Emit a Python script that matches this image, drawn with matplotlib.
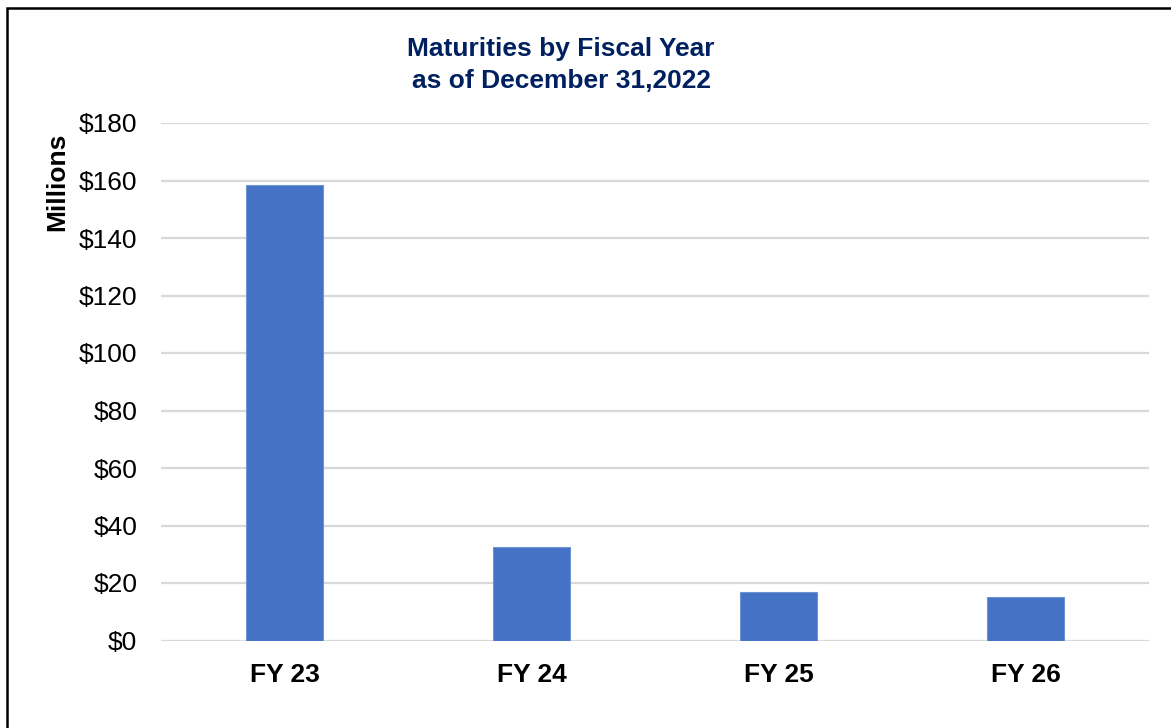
import matplotlib
matplotlib.use('Agg')
import matplotlib.pyplot as plt
from matplotlib.patches import Rectangle

# data
categories = ['FY 23', 'FY 24', 'FY 25', 'FY 26']
maturities = [158.4, 32.4, 16.8, 15.2]  # $ millions
y_ticks = [0, 20, 40, 60, 80, 100, 120, 140, 160, 180]
y_tick_labels = ['$' + str(v) for v in y_ticks]

plt.rcParams['font.family'] = ['Liberation Sans', 'DejaVu Sans']

W, H, dpi = 1171, 728, 100
fs = 19
fig = plt.figure(figsize=(W / dpi, H / dpi), dpi=dpi)
ax = fig.add_axes([161 / W, 1 - 640.5 / H, (1149 - 161) / W, (640.5 - 123) / H])

ax.bar(range(len(categories)), maturities, width=0.315, color='#4472C4',
       edgecolor='#6f94d6', linewidth=0.8, zorder=3)

ax.set_xlim(-0.5, len(categories) - 0.5)
ax.set_ylim(0, 180)
ax.set_yticks(y_ticks)
ax.set_yticklabels(y_tick_labels, fontsize=fs)
ax.set_xticks(range(len(categories)))
ax.set_xticklabels(categories, fontsize=fs, fontweight='bold')
ax.tick_params(axis='both', length=0, colors='black')
ax.tick_params(axis='y', pad=17)
ax.tick_params(axis='x', pad=16)
ax.grid(axis='y', color='#d9d9d9', linewidth=1.6, zorder=0)
ax.set_axisbelow(True)
for s in ax.spines.values():
    s.set_visible(False)

fig.text(57 / W, 1 - 182 / H, 'Millions', rotation=90, fontsize=fs,
         fontweight='bold', ha='center', va='center')
fig.text(561 / W, 1 - 65 / H, 'Maturities by Fiscal Year\nas of December 31,2022',
         fontsize=fs, fontweight='bold', color='#002060', ha='center',
         va='center', linespacing=1.42)

# outer frame (left and top edges visible)
fig.patches.append(Rectangle((7 / W, -0.1), 1.2, 1 - 8 / H + 0.1,
                             transform=fig.transFigure, fill=False,
                             edgecolor='black', linewidth=1.8))

fig.savefig('out.png', dpi=dpi)
